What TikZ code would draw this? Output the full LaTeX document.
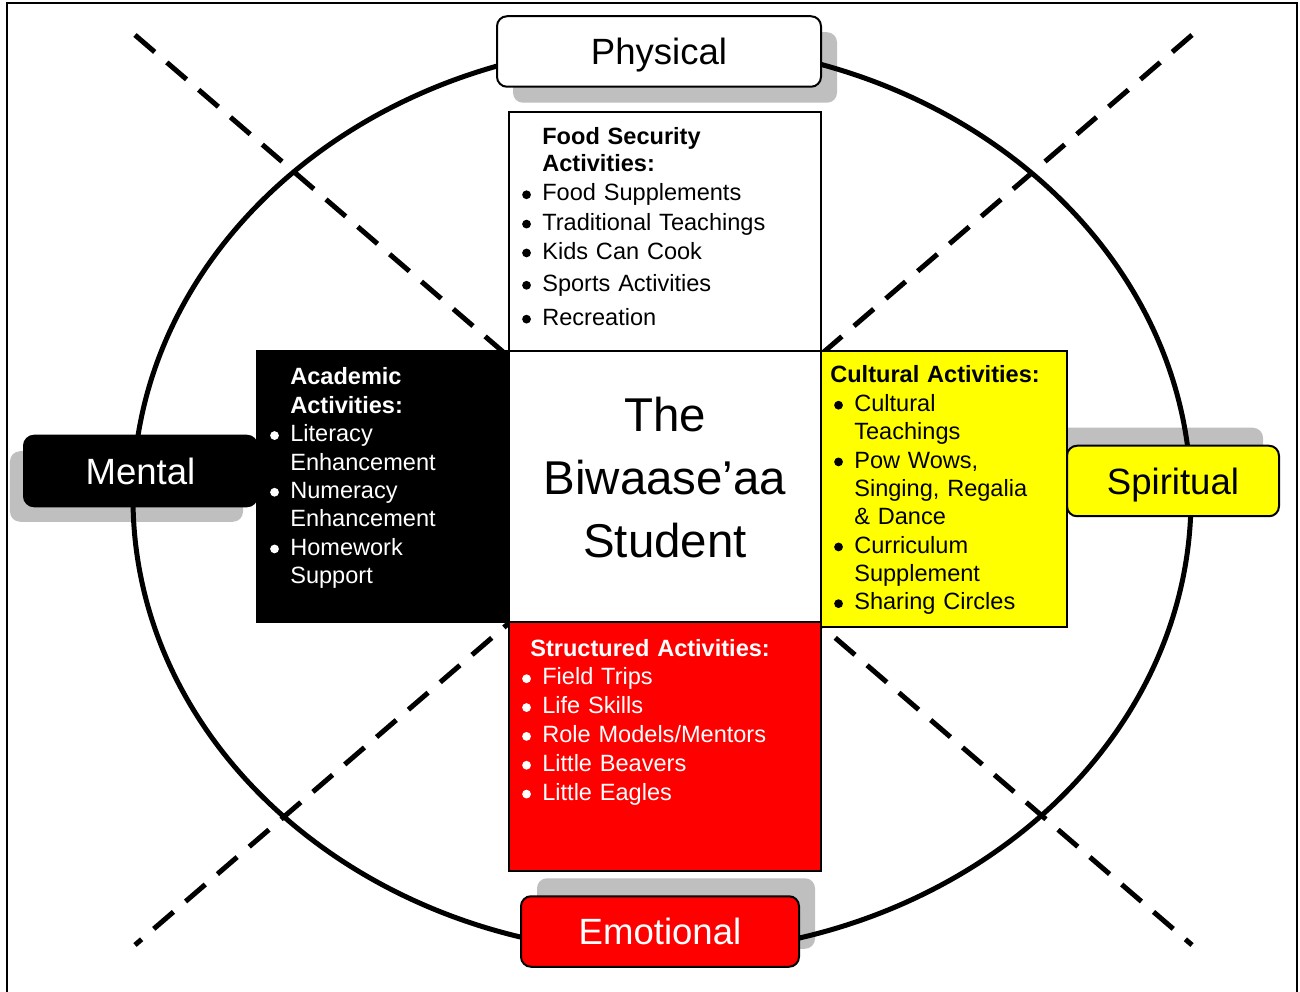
\documentclass[tikz,border=0pt]{standalone}
\usepackage{fontspec}
\setmainfont{Liberation Sans}
\usetikzlibrary{positioning}
\definecolor{Wheel}{HTML}{000000}
\definecolor{Spirit}{HTML}{FFFF00}
\definecolor{Emo}{HTML}{FF0000}
\newcommand{\itembul}{\leavevmode\llap{\tikz[baseline=0pt]\fill[fill=.] (0pt,3.5pt) circle[radius=2.5pt];\hspace{6.5pt}}}

\begin{document}
\begin{tikzpicture}[x=2cm, y=2cm,
  label/.style={draw=black, line width=0.04cm, rounded corners=0.2cm, minimum height=1.41cm, inner sep=0,
    font=\fontsize{20.8pt}{24pt}\selectfont, text height=14.9pt, text depth=0pt},
  shade/.style={fill=black, fill opacity=0.25, rounded corners=0.2cm, minimum height=1.41cm, inner sep=0},
  panel/.style={draw=black, line width=0.04cm, inner sep=0},
  body/.style={anchor=base west, inner sep=0, align=left, font=\fontsize{13.4pt}{0.567cm}\selectfont},
  divider/.style={line width=0.1cm, dash pattern=on 0.52cm off 0.32cm}]
\useasboundingbox (0,0) rectangle (13,-9.92);

% frame and wheel
\draw[line width=0.04cm] (0.07,-10.2) -- (0.07,-0.03) -- (12.97,-0.03) -- (12.97,-10.2);
\draw[line width=0.1cm, Wheel] (6.62,-4.985) ellipse [x radius=5.29, y radius=4.55];

% quadrant dividers
\coordinate (nw) at (1.35,-0.35);
\coordinate (se) at (11.92,-9.45);
\coordinate (ne) at (11.92,-0.35);
\coordinate (sw) at (1.35,-9.45);
\draw[divider] (nw) -- (se);
\draw[divider] (ne) -- (sw);

% shadows
\node[shade, minimum width=6.48cm] (physhade) at (6.75,-0.675) {};
\node[shade, minimum width=4.66cm] (menshade) at (1.265,-4.865) {};
\node[shade, minimum width=4.24cm] (spishade) at (11.57,-4.63) {};
\node[shade, minimum width=5.56cm] (emoshade) at (6.76,-9.135) {};

% panels
\node[panel, fill=white, minimum width=6.24cm, minimum height=4.78cm] (foodbox) at (6.65,-2.315) {};
\node[panel, fill=white, minimum width=6.24cm, minimum height=5.42cm] (student) at (6.65,-4.865) {};
\node[panel, fill=black, minimum width=5.04cm, minimum height=5.42cm] (acadbox) at (3.83,-4.865) {};
\node[panel, fill=Spirit, minimum width=4.92cm, minimum height=5.52cm] (cultbox) at (9.44,-4.89) {};
\node[panel, fill=Emo, minimum width=6.24cm, minimum height=4.98cm] (structbox) at (6.65,-7.465) {};

% quadrant labels
\node[label, fill=white, minimum width=6.48cm] (physical) at (6.59,-0.515) {Physical};
\node[label, fill=black, text=white, minimum width=4.66cm] (mental) at (1.405,-4.71) {Mental};
\node[label, fill=Spirit, minimum width=4.24cm] (spiritual) at (11.73,-4.81) {Spiritual};
\node[label, fill=Emo, text=white, minimum width=5.56cm] (emotional) at (6.60,-9.315) {Emotional};

% centre
\node[anchor=base, inner sep=0, text width=6cm, align=center,
  font=\fontsize{27pt}{1.26cm}\selectfont] (studtxt) at (6.65,-4.32) {The\\Biwaase’aa\\Student};

% activity lists
\node[body, text width=5.5cm] (foodtxt) at (5.42,-1.447) {%
  \textbf{Food Security}\\[-0.04cm]
  \textbf{Activities:}\\[0.03cm]
  \itembul Food Supplements\\[0.02cm]
  \itembul Traditional Teachings\\[0.01cm]
  \itembul Kids Can Cook\\[0.08cm]
  \itembul Sports Activities\\[0.11cm]
  \itembul Recreation};
\node[body, text width=4.3cm, text=white] (acadtxt) at (2.90,-3.85) {%
  \textbf{Academic}\\
  \textbf{Activities:}\\
  \itembul Literacy\\
  Enhancement\\
  \itembul Numeracy\\
  Enhancement\\
  \itembul Homework\\
  Support};
\node[body, text width=4.1cm] (culttxt) at (8.54,-3.83) {%
  \hspace*{-0.48cm}\textbf{Cultural Activities:}\\
  \itembul Cultural\\
  Teachings\\
  \itembul Pow Wows,\\
  Singing, Regalia\\
  \& Dance\\
  \itembul Curriculum\\
  Supplement\\
  \itembul Sharing Circles};
\node[body, text width=5.5cm, text=white] (structtxt) at (5.42,-6.56) {%
  \hspace*{-0.24cm}\textbf{Structured Activities:}\\[0.01cm]
  \itembul Field Trips\\[0.01cm]
  \itembul Life Skills\\[0.01cm]
  \itembul Role Models/Mentors\\[0.01cm]
  \itembul Little Beavers\\[0.01cm]
  \itembul Little Eagles};
\end{tikzpicture}
\end{document}
